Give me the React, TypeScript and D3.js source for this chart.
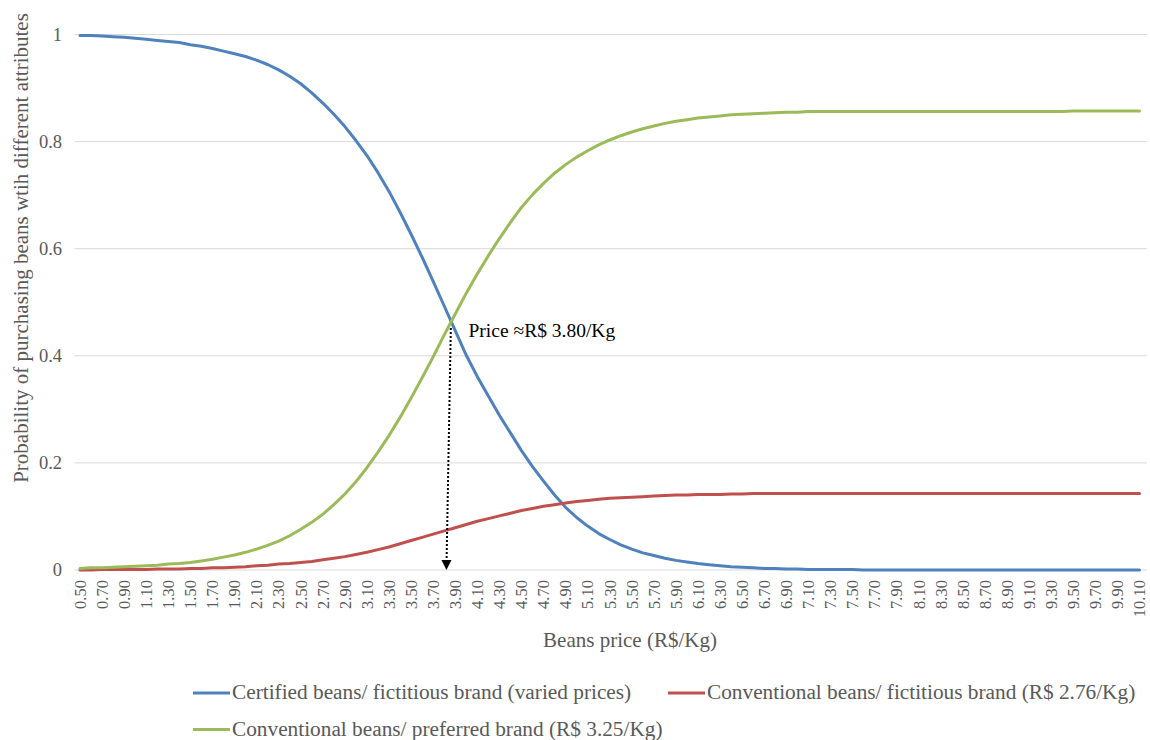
import React from "react";
import * as d3 from "d3";

const PRICES = [
  0.5, 0.6, 0.7, 0.8, 0.9, 1.0, 1.1, 1.2, 1.3, 1.4, 1.5, 1.6, 1.7, 1.8, 1.9, 2.0,
  2.1, 2.2, 2.3, 2.4, 2.5, 2.6, 2.7, 2.8, 2.9, 3.0, 3.1, 3.2, 3.3, 3.4, 3.5, 3.6,
  3.7, 3.8, 3.9, 4.0, 4.1, 4.2, 4.3, 4.4, 4.5, 4.6, 4.7, 4.8, 4.9, 5.0, 5.1, 5.2,
  5.3, 5.4, 5.5, 5.6, 5.7, 5.8, 5.9, 6.0, 6.1, 6.2, 6.3, 6.4, 6.5, 6.6, 6.7, 6.8,
  6.9, 7.0, 7.1, 7.2, 7.3, 7.4, 7.5, 7.6, 7.7, 7.8, 7.9, 8.0, 8.1, 8.2, 8.3, 8.4,
  8.5, 8.6, 8.7, 8.8, 8.9, 9.0, 9.1, 9.2, 9.3, 9.4, 9.5, 9.6, 9.7, 9.8, 9.9, 10.0,
  10.1,
];

// certified beans / fictitious brand (varied prices)
const CERTIFIED = [
  0.998, 0.998, 0.997, 0.996, 0.995, 0.993, 0.991, 0.989, 0.987, 0.985, 0.981,
  0.978, 0.974, 0.969, 0.964, 0.959, 0.952, 0.944, 0.934, 0.922, 0.908, 0.891,
  0.872, 0.851, 0.828, 0.802, 0.774, 0.742, 0.707, 0.668, 0.627, 0.584, 0.539,
  0.493, 0.447, 0.401, 0.361, 0.325, 0.289, 0.256, 0.223, 0.193, 0.166, 0.14,
  0.117, 0.098, 0.082, 0.068, 0.057, 0.047, 0.039, 0.032, 0.027, 0.022, 0.018,
  0.015, 0.012, 0.01, 0.008, 0.006, 0.005, 0.004, 0.003, 0.003, 0.002, 0.002,
  0.001, 0.001, 0.001, 0.001, 0.001, 0, 0, 0, 0, 0, 0, 0, 0, 0, 0, 0, 0, 0, 0, 0,
  0, 0, 0, 0, 0, 0, 0, 0, 0, 0, 0,
];

// conventional beans / fictitious brand (R$ 2.76/Kg)
const CONV_FICTITIOUS = [
  0, 0, 0.001, 0.001, 0.001, 0.001, 0.001, 0.002, 0.002, 0.002, 0.003, 0.003,
  0.004, 0.004, 0.005, 0.006, 0.008, 0.009, 0.011, 0.012, 0.014, 0.016, 0.019,
  0.022, 0.025, 0.029, 0.033, 0.038, 0.043, 0.049, 0.055, 0.061, 0.067, 0.073,
  0.079, 0.085, 0.091, 0.096, 0.101, 0.106, 0.111, 0.115, 0.119, 0.122, 0.125,
  0.128, 0.13, 0.132, 0.134, 0.135, 0.136, 0.137, 0.138, 0.139, 0.14, 0.14, 0.141,
  0.141, 0.141, 0.142, 0.142, 0.143, 0.143, 0.143, 0.143, 0.143, 0.143, 0.143,
  0.143, 0.143, 0.143, 0.143, 0.143, 0.143, 0.143, 0.143, 0.143, 0.143, 0.143,
  0.143, 0.143, 0.143, 0.143, 0.143, 0.143, 0.143, 0.143, 0.143, 0.143, 0.143,
  0.143, 0.143, 0.143, 0.143, 0.143, 0.143, 0.143,
];

// conventional beans / preferred brand (R$ 3.25/Kg)
const CONV_PREFERRED = [
  0.003, 0.004, 0.004, 0.005, 0.006, 0.007, 0.008, 0.009, 0.011, 0.012, 0.014,
  0.017, 0.02, 0.024, 0.028, 0.033, 0.039, 0.046, 0.054, 0.064, 0.076, 0.089,
  0.104, 0.122, 0.142, 0.165, 0.191, 0.22, 0.251, 0.285, 0.321, 0.359, 0.398,
  0.439, 0.478, 0.517, 0.553, 0.587, 0.619, 0.649, 0.677, 0.701, 0.722, 0.741,
  0.757, 0.771, 0.783, 0.794, 0.803, 0.811, 0.818, 0.824, 0.829, 0.834, 0.838,
  0.841, 0.844, 0.846, 0.848, 0.85, 0.851, 0.852, 0.853, 0.854, 0.855, 0.855,
  0.856, 0.856, 0.856, 0.856, 0.856, 0.856, 0.856, 0.856, 0.856, 0.856, 0.856,
  0.856, 0.856, 0.856, 0.856, 0.856, 0.856, 0.856, 0.856, 0.856, 0.856, 0.856,
  0.856, 0.856, 0.857, 0.857, 0.857, 0.857, 0.857, 0.857, 0.857,
];

const SERIES_NAMES = [
  "Certified beans/ fictitious brand (varied prices)",
  "Conventional beans/ fictitious brand (R$ 2.76/Kg)",
  "Conventional beans/ preferred brand (R$ 3.25/Kg)",
];
const SERIES_COLORS = ["#4F81BD", "#C0504D", "#9BBB59"];
const Y_TICKS = [0, 0.2, 0.4, 0.6, 0.8, 1];

// annotation: where the two main curves cross
const CROSS_TOP = { price: 3.86, value: 0.452 };
const CROSS_BOTTOM = { price: 3.82, value: 0 };
const CROSS_LABEL = "Price \u2248R$ 3.80/Kg";

const FONT = "Liberation Serif, Times New Roman, serif";
const GREY = "#595959";

const App: React.FC = () => {
  const width = 1150;
  const height = 740;
  const plot = { left: 74.5, right: 1145, top: 34.5, bottom: 570 };

  const cats = PRICES.map((p) => p.toFixed(2));
  const xBand = d3.scaleBand<string>().domain(cats).range([plot.left, plot.right]).paddingInner(0).paddingOuter(0);
  const half = xBand.bandwidth() / 2;
  const x = (c: string) => (xBand(c) as number) + half;
  const xPrice = d3
    .scaleLinear()
    .domain([PRICES[0], PRICES[PRICES.length - 1]])
    .range([x(cats[0]), x(cats[cats.length - 1])]);
  const y = d3.scaleLinear().domain([0, 1]).range([plot.bottom, plot.top]);

  const allSeries = [CERTIFIED, CONV_FICTITIOUS, CONV_PREFERRED];
  const line = d3
    .line<number>()
    .x((_, i) => x(cats[i]))
    .y((d) => y(d));

  const tickCats = cats.filter((_, i) => i % 2 === 0);

  const ax = xPrice(CROSS_TOP.price);
  const ay = y(CROSS_TOP.value);
  const bx = xPrice(CROSS_BOTTOM.price);
  const by = y(CROSS_BOTTOM.value);
  const headLen = 10;
  const headW = 5;

  const legendRows = [
    { idx: 0, lx: 193, ly: 693 },
    { idx: 1, lx: 668, ly: 693 },
    { idx: 2, lx: 193, ly: 729.5 },
  ];

  const txt = { fontFamily: FONT };

  return (
    <svg
      width={width}
      height={height}
      style={{ position: "absolute", left: 0, top: 0, background: "#fff" }}
    >
      <rect width={width} height={height} fill="#fff" />
      {Y_TICKS.map((t) => (
        <g key={t}>
          <line x1={plot.left} x2={plot.right + 2} y1={y(t)} y2={y(t)} stroke="#D9D9D9" strokeWidth={1} />
          <text x={62} y={y(t)} dy="0.35em" textAnchor="end" fontSize={18.5} fill={GREY} style={txt}>
            {d3.format("~g")(t)}
          </text>
        </g>
      ))}

      {tickCats.map((c) => (
        <text
          key={c}
          transform={`translate(${x(c)},${plot.bottom + 10}) rotate(-90)`}
          dy="0.35em"
          textAnchor="end"
          fontSize={16.5}
          fill={GREY}
          style={txt}
        >
          {c}
        </text>
      ))}

      {allSeries.map((s, i) => (
        <path
          key={i}
          d={line(s) || ""}
          fill="none"
          stroke={SERIES_COLORS[i]}
          strokeWidth={3}
          strokeLinejoin="round"
          strokeLinecap="round"
        />
      ))}

      {/* dotted arrow */}
      <line
        x1={ax}
        y1={ay}
        x2={bx + ((ax - bx) * headLen) / (by - ay)}
        y2={by - headLen}
        stroke="#000"
        strokeWidth={2}
        strokeDasharray="2,2"
      />
      <path
        d={`M${bx},${by} L${bx - headW},${by - headLen} L${bx + headW},${by - headLen} Z`}
        fill="#000"
      />
      <text x={xPrice(4.02)} y={y(0.436)} fontSize={19.5} fill="#000" style={txt}>
        {CROSS_LABEL}
      </text>

      <text
        transform={`translate(28,248) rotate(-90)`}
        textAnchor="middle"
        fontSize={21}
        fill={GREY}
        style={txt}
      >
        Probability of purchasing beans wtih different attributes
      </text>
      <text x={630} y={647} textAnchor="middle" fontSize={21} fill={GREY} style={txt}>
        Beans price (R$/Kg)
      </text>

      {legendRows.map((r) => (
        <g key={r.idx}>
          <line
            x1={r.lx}
            x2={r.lx + 37}
            y1={r.ly}
            y2={r.ly}
            stroke={SERIES_COLORS[r.idx]}
            strokeWidth={3}
          />
          <text x={r.lx + 39} y={r.ly + 6} fontSize={21.3} fill={GREY} style={txt}>
            {SERIES_NAMES[r.idx]}
          </text>
        </g>
      ))}
    </svg>
  );
};

export default App;
